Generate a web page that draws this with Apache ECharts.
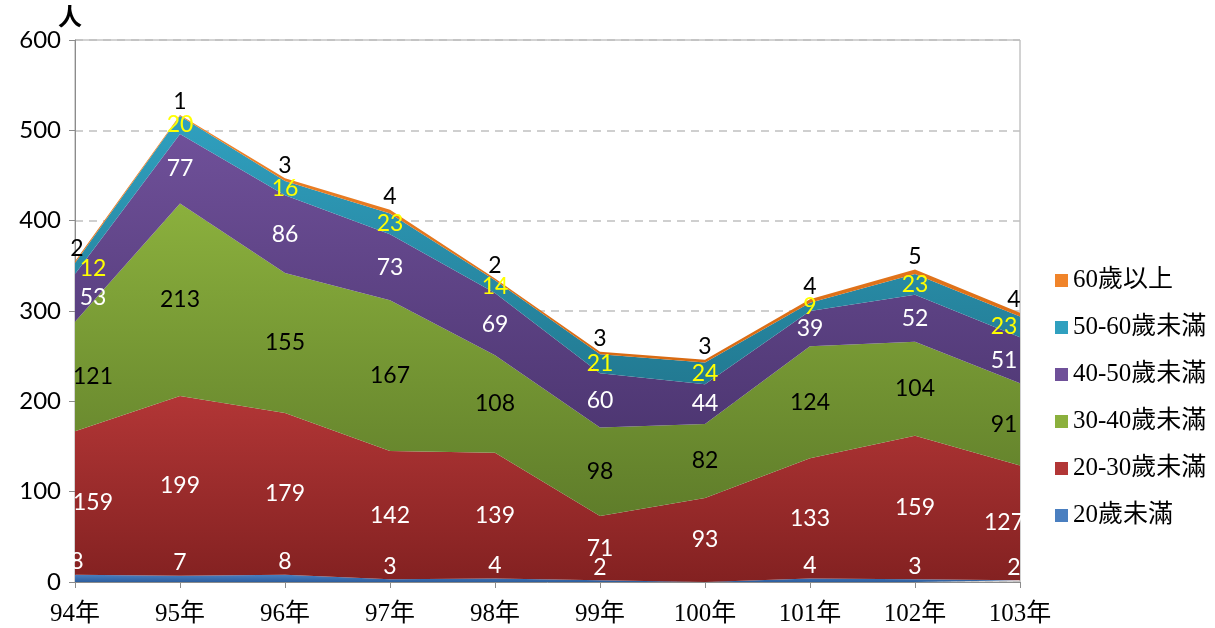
<!DOCTYPE html>
<html>
<head>
<meta charset="utf-8">
<script src="https://cdn.jsdelivr.net/npm/echarts@6/dist/echarts.min.js"></script>
<style>
  html, body { margin: 0; padding: 0; background: #fff; }
  #chart { width: 1215px; height: 628px; }
</style>
</head>
<body>
<div id="chart"></div>
<script>
// 年度
var categories = ['94年', '95年', '96年', '97年', '98年', '99年', '100年', '101年', '102年', '103年'];
// 各年齡層人數
var under20 = [8, 7, 8, 3, 4, 2, 0, 4, 3, 2];
var age20_30 = [159, 199, 179, 142, 139, 71, 93, 133, 159, 127];
var age30_40 = [121, 213, 155, 167, 108, 98, 82, 124, 104, 91];
var age40_50 = [53, 77, 86, 73, 69, 60, 44, 39, 52, 51];
var age50_60 = [12, 20, 16, 23, 14, 21, 24, 9, 23, 23];
var over60 = [2, 1, 3, 4, 2, 3, 3, 4, 5, 4];

var seriesNames = ['20歲未滿', '20-30歲未滿', '30-40歲未滿', '40-50歲未滿', '50-60歲未滿', '60歲以上'];
var seriesData = [under20, age20_30, age30_40, age40_50, age50_60, over60];

var grads = [
  ['#4a7fc0', '#2c5e9e'],
  ['#b23636', '#832121'],
  ['#8bb03d', '#5f7d2a'],
  ['#6f5099', '#4e3773'],
  ['#30a0bf', '#227a92'],
  ['#f0842a', '#d86a12']
];
var labelColors = ['#fff', '#fff', '#000', '#fff', '#ffff00', '#000'];
// 標籤放置: 0 = 區塊中間, 1 = 頂端上方
var labelMode = [1, 0, 0, 0, 0, 1];

var labelFont = 'Lato, "Noto Sans", sans-serif';
var serifFont = '"Liberation Serif", "Noto Sans CJK TC", serif';

var chart = echarts.init(document.getElementById('chart'));

var series = [];
var base = categories.map(function () { return 0; });

seriesData.forEach(function (arr, s) {
  series.push({
    name: seriesNames[s],
    type: 'line',
    stack: 'total',
    symbol: 'none',
    lineStyle: { width: 0 },
    itemStyle: { color: grads[s][0] },
    areaStyle: {
      opacity: 1,
      color: new echarts.graphic.LinearGradient(0, 0, 0, 1, [
        { offset: 0, color: grads[s][0] },
        { offset: 1, color: grads[s][1] }
      ])
    },
    z: 2,
    data: arr
  });

  // 標籤用的隱形散點
  var pts = [];
  arr.forEach(function (v, i) {
    if (v === 0) return;
    var y = labelMode[s] ? base[i] + v : base[i] + v / 2;
    var off = 0;
    if (i === 0) off = labelMode[s] ? 2 : 18;
    if (i === arr.length - 1) off = labelMode[s] ? -6 : -16;
    pts.push({ value: [i, y, v], label: { offset: [off, 0] } });
  });
  series.push({
    name: 'lbl' + s,
    type: 'scatter',
    symbolSize: 1,
    silent: true,
    itemStyle: { color: 'rgba(0,0,0,0)', opacity: 1 },
    z: 5,
    label: {
      show: true,
      position: labelMode[s] ? 'top' : 'inside',
      distance: labelMode[s] ? 1 : 0,
      color: labelColors[s],
      opacity: 1,
      textBorderWidth: 0,
      textShadowBlur: 0,
      fontFamily: labelFont,
      fontSize: 23,
      formatter: function (p) { return p.value[2]; }
    },
    data: pts
  });

  arr.forEach(function (v, i) { base[i] += v; });
});

chart.setOption({
  animation: false,
  grid: {
    left: 75,
    right: 195,
    top: 40,
    bottom: 46,
    show: true,
    borderColor: '#a6a6a6',
    borderWidth: 1,
    backgroundColor: 'transparent'
  },
  legend: {
    orient: 'vertical',
    left: 1050,
    top: 263,
    itemWidth: 13,
    itemHeight: 13,
    itemGap: 22,
    icon: 'rect',
    data: seriesNames.slice().reverse(),
    textStyle: { fontFamily: serifFont, fontSize: 25, color: '#000' }
  },
  xAxis: {
    type: 'category',
    boundaryGap: false,
    data: categories,
    axisLine: { lineStyle: { color: '#8c8c8c' } },
    axisTick: { show: true, length: 6, lineStyle: { color: '#8c8c8c' } },
    axisLabel: { fontFamily: serifFont, fontSize: 25, color: '#000', margin: 20 },
    z: 10
  },
  yAxis: {
    type: 'value',
    min: 0,
    max: 600,
    interval: 100,
    name: '人',
    nameLocation: 'end',
    nameGap: 2,
    nameTextStyle: { fontFamily: '"Noto Sans CJK TC", sans-serif', fontSize: 24, fontWeight: 'bold', color: '#000', padding: [0, 10, 0, 0] },
    axisLine: { show: true, lineStyle: { color: '#8c8c8c' } },
    axisTick: { show: true, length: 6, lineStyle: { color: '#8c8c8c' } },
    axisLabel: { fontFamily: labelFont, fontSize: 24, color: '#000', margin: 14 },
    splitLine: { lineStyle: { color: '#c0c0c0', type: [8, 6], width: 1.5 } }
  },
  series: series
});
</script>
</body>
</html>
